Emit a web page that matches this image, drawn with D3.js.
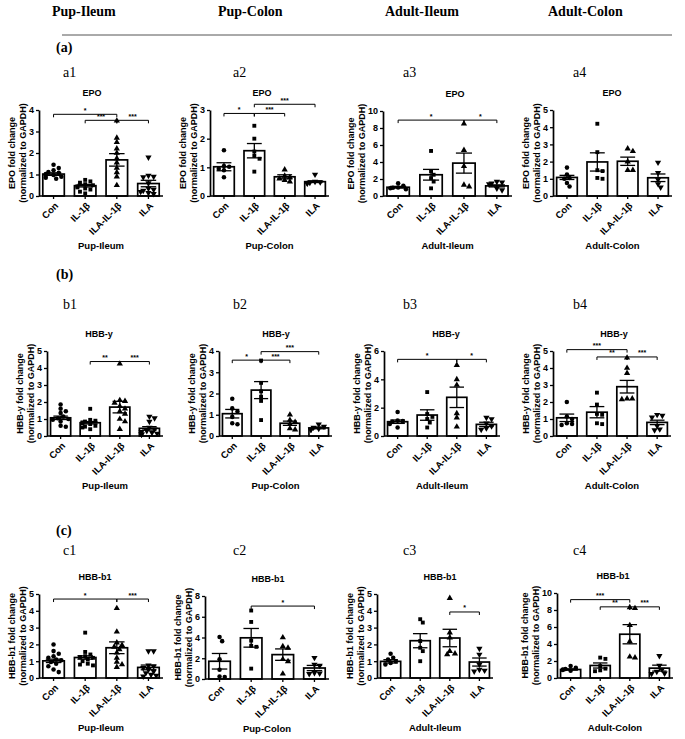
<!DOCTYPE html>
<html>
<head>
<meta charset="utf-8">
<script src="https://cdn.jsdelivr.net/npm/d3@7"></script>
<style>
  body { margin: 0; background: #fff; }
  text { fill: #000; }
  .sans { font-family: "Liberation Sans", Arial, sans-serif; font-weight: bold; }
  .serif { font-family: "Liberation Serif", "Times New Roman", serif; }
</style>
</head>
<body>
<svg id="fig" width="685" height="739"></svg>
<script>
// ---- data ----
const groups = ["Con", "IL-1β", "ILA-IL-1β", "ILA"];
const tissues = ["Pup-Ileum", "Pup-Colon", "Adult-Ileum", "Adult-Colon"];
const genes = ["EPO", "HBB-y", "HBB-b1"];
const rowTags = ["(a)", "(b)", "(c)"];
const panelTags = ["a1", "a2", "a3", "a4", "b1", "b2", "b3", "b4", "c1", "c2", "c3", "c4"];

const yMax = [4, 3, 10, 5, 5, 4, 6, 5, 5, 8, 5, 10];
const yStep = [1, 1, 2, 1, 1, 1, 2, 1, 1, 2, 1, 2];

const means = [
  [1.02, 0.48, 1.68, 0.58],
  [1.02, 1.58, 0.67, 0.50],
  [1.03, 2.50, 3.87, 1.19],
  [1.08, 1.98, 2.02, 1.06],
  [1.07, 0.78, 1.70, 0.45],
  [1.05, 2.16, 0.60, 0.38],
  [1.01, 1.48, 2.73, 0.82],
  [1.07, 1.40, 2.90, 0.80],
  [1.02, 1.22, 1.80, 0.63],
  [1.71, 3.97, 2.35, 1.06],
  [0.99, 2.22, 2.38, 0.95],
  [1.00, 1.47, 5.15, 1.16]
];
const sems = [
  [0.06, 0.06, 0.29, 0.15],
  [0.14, 0.25, 0.07, 0.03],
  [0.10, 0.63, 1.18, 0.12],
  [0.12, 0.53, 0.24, 0.22],
  [0.10, 0.07, 0.34, 0.10],
  [0.20, 0.40, 0.10, 0.04],
  [0.12, 0.37, 0.72, 0.15],
  [0.22, 0.33, 0.37, 0.13],
  [0.10, 0.10, 0.35, 0.14],
  [0.75, 0.90, 0.55, 0.25],
  [0.10, 0.42, 0.52, 0.24],
  [0.08, 0.30, 1.13, 0.35]
];

// individual animals, one list per group
const points = [
  [[1.45, 1.3, 1.2, 1.12, 1.08, 1.02, 0.98, 0.95, 0.9, 0.85, 0.8],
   [0.75, 0.68, 0.62, 0.55, 0.5, 0.45, 0.4, 0.35, 0.3, 0.2, 0.12],
   [3.5, 2.7, 2.5, 2.2, 2.0, 1.75, 1.55, 1.3, 1.1, 0.9, 0.5],
   [1.8, 0.95, 0.9, 0.88, 0.6, 0.35, 0.3, 0.25, 0.2, 0.15, 0.1]],
  [[1.6, 1.05, 1.02, 0.95, 0.9, 0.65],
   [2.45, 2.0, 1.55, 1.4, 1.3, 0.85],
   [0.92, 0.7, 0.65, 0.6, 0.55, 0.5],
   [0.75, 0.5, 0.48, 0.47, 0.45, 0.44]],
  [[1.5, 1.2, 1.0, 0.98, 0.9, 0.8],
   [5.3, 2.9, 2.5, 2.1, 1.7, 0.9],
   [8.5, 5.4, 3.5, 1.3, 1.1],
   [1.7, 1.6, 1.5, 1.4, 0.9, 0.7]],
  [[1.65, 1.25, 1.05, 1.0, 0.75, 0.55],
   [4.2, 2.55, 1.5, 1.45, 1.05, 1.0],
   [2.75, 2.6, 2.0, 1.5, 1.5],
   [1.95, 1.35, 0.95, 0.7, 0.5]],
  [[1.85, 1.6, 1.45, 1.35, 1.15, 1.05, 1.0, 0.95, 0.85, 0.6, 0.55],
   [1.6, 0.95, 0.9, 0.85, 0.8, 0.75, 0.7, 0.6, 0.55, 0.5, 0.4],
   [4.25, 2.1, 2.05, 1.95, 1.75, 1.6, 1.45, 1.3, 1.0, 0.85, 0.4],
   [1.15, 1.05, 0.85, 0.5, 0.4, 0.3, 0.25, 0.2, 0.15, 0.1, 0.1]],
  [[1.75, 1.3, 1.15, 0.9, 0.6, 0.55],
   [3.55, 2.5, 2.1, 1.85, 1.65, 0.75],
   [1.0, 0.75, 0.65, 0.55, 0.35, 0.3],
   [0.55, 0.45, 0.4, 0.35, 0.3, 0.3]],
  [[1.7, 1.1, 1.05, 1.0, 0.85, 0.6],
   [3.1, 1.55, 1.35, 1.2, 0.95, 0.6],
   [5.0, 4.0, 3.6, 1.6, 1.3, 0.65],
   [1.3, 1.2, 0.9, 0.7, 0.55, 0.45]],
  [[2.0, 1.15, 1.0, 0.75, 0.7, 0.65],
   [2.55, 1.85, 1.3, 1.25, 0.75, 0.7],
   [4.6, 4.0, 3.7, 2.2, 2.2, 2.15],
   [1.25, 1.2, 1.1, 0.6, 0.4, 0.35]],
  [[2.0, 1.6, 1.45, 1.3, 1.2, 1.1, 1.05, 0.95, 0.85, 0.7, 0.5, 0.35],
   [2.7, 1.55, 1.4, 1.3, 1.25, 1.2, 1.1, 1.0, 0.85, 0.8, 0.75],
   [4.15, 2.75, 2.1, 1.95, 1.85, 1.7, 1.5, 1.2, 0.95, 0.8, 0.65],
   [1.6, 1.6, 0.75, 0.7, 0.6, 0.5, 0.4, 0.3, 0.2, 0.15, 0.1]],
  [[4.05, 3.65, 1.9, 0.9, 0.25, 0.2],
   [6.6, 5.5, 3.7, 3.2, 3.1, 1.0],
   [4.0, 3.15, 3.0, 1.9, 1.7, 0.5],
   [2.05, 1.4, 1.3, 0.6, 0.55, 0.5]],
  [[1.45, 1.2, 1.1, 1.0, 0.9, 0.8],
   [3.5, 3.3, 2.2, 1.8, 1.6, 1.0],
   [4.75, 2.7, 2.4, 1.6, 1.45, 1.4],
   [1.75, 1.4, 0.8, 0.5, 0.45, 0.4]],
  [[1.4, 1.2, 1.05, 1.0, 0.95, 0.85],
   [2.4, 2.25, 1.4, 1.1, 0.9, 0.8],
   [8.3, 8.2, 6.2, 4.3, 2.5, 2.4],
   [2.6, 1.45, 1.0, 0.75, 0.55, 0.5]]
];

// significance brackets: [from group, to group, height in data units, label]
const brackets = [
  [[0, 2, 3.8, "*"], [1, 2, 3.52, "***"], [2, 3, 3.52, "***"]],
  [[1, 3, 3.2, "***"], [0, 1, 2.88, "*"], [1, 2, 2.88, "***"]],
  [[0, 2, 8.93, "*"], [2, 3, 8.93, "*"]],
  [],
  [[1, 2, 4.38, "**"], [2, 3, 4.38, "***"]],
  [[1, 3, 3.97, "***"], [0, 1, 3.57, "*"], [1, 2, 3.57, "***"]],
  [[0, 2, 5.41, "*"], [2, 3, 5.41, "*"]],
  [[0, 2, 5.08, "***"], [1, 2, 4.65, "**"], [2, 3, 4.65, "***"]],
  [[0, 2, 4.7, "*"], [2, 3, 4.7, "***"]],
  [[1, 3, 7.03, "*"]],
  [[2, 3, 3.93, "*"]],
  [[0, 2, 9.22, "***"], [1, 2, 8.37, "**"], [2, 3, 8.37, "***"]]
];

// ---- layout (pixels) ----
// plot box of each panel: left, right, top, bottom
const boxes = [
  [39, 163, 110, 196], [210, 329, 110, 196], [383, 512, 111, 196], [553, 672, 110, 196],
  [47, 163, 351, 436], [219, 332, 351, 436], [384, 500, 351, 436], [553, 671, 351, 436],
  [39, 163, 594, 678], [205, 329, 596, 679], [377, 493, 594, 678], [557, 673, 593, 678]
];
const titleX = [92, 262, 455, 612, 99, 276, 446, 614, 95, 268, 440, 613];
const headerX = [52, 218, 385, 548];
const tagX = [63, 233, 403, 573];
const tagY = [77, 309, 555];
const rowTagY = [52, 279, 535];

const svg = d3.select("#fig");

// column headers and rule
svg.selectAll(".hdr").data(tissues).join("text")
  .attr("class", "serif")
  .attr("x", (d, i) => headerX[i]).attr("y", 16)
  .style("font-size", "14px").style("font-weight", "bold")
  .text(d => d);
svg.append("line")
  .attr("x1", 62).attr("x2", 672).attr("y1", 35).attr("y2", 35)
  .attr("stroke", "#555").attr("stroke-width", 1);

svg.selectAll(".rowtag").data(rowTags).join("text")
  .attr("class", "serif")
  .attr("x", 56).attr("y", (d, i) => rowTagY[i])
  .style("font-size", "14px").style("font-weight", "bold")
  .text(d => d);

svg.selectAll(".ptag").data(panelTags).join("text")
  .attr("class", "serif")
  .attr("x", (d, i) => tagX[i % 4]).attr("y", (d, i) => tagY[Math.floor(i / 4)])
  .style("font-size", "14px")
  .text(d => d);

const symbols = [d3.symbolCircle, d3.symbolSquare, d3.symbolTriangle, d3.symbolTriangle];
const symbolSize = [16, 15, 17, 17];

panelTags.forEach((tag, p) => {
  const [x0, x1, top, bottom] = boxes[p];
  const gene = genes[Math.floor(p / 4)];
  const tissue = tissues[p % 4];
  const g = svg.append("g");

  const x = d3.scaleBand().domain(groups).range([x0, x1]).paddingInner(0.32).paddingOuter(0.12);
  const y = d3.scaleLinear().domain([0, yMax[p]]).range([bottom, top]);
  const bw = x.bandwidth();
  const cx = i => x(groups[i]) + bw / 2;

  // bars
  g.selectAll(".bar").data(means[p]).join("rect")
    .attr("x", (d, i) => x(groups[i]))
    .attr("y", d => y(d))
    .attr("width", bw)
    .attr("height", d => bottom - y(d))
    .attr("fill", "#fff").attr("stroke", "#000").attr("stroke-width", 1.7);

  // scatter points, simple beeswarm
  points[p].forEach((vals, gi) => {
    const placed = [];
    const step = 2.6, rad = 4.2;
    vals.slice().sort((a, b) => b - a).forEach(v => {
      const py = y(v);
      let dx = 0;
      for (let k = 0; k < 12; k++) {
        const cand = k === 0 ? 0 : (k % 2 ? 1 : -1) * Math.ceil(k / 2) * step;
        if (Math.abs(cand) > bw / 2 - 2) continue;
        if (!placed.some(q => Math.hypot(q[0] - cand, q[1] - py) < rad)) { dx = cand; break; }
        dx = cand;
      }
      placed.push([dx, py]);
    });
    g.selectAll(null).data(placed).join("path")
      .attr("d", d3.symbol().type(symbols[gi]).size(symbolSize[gi]))
      .attr("transform", d => `translate(${cx(gi) + d[0]},${d[1]})` + (gi === 3 ? " rotate(180)" : ""))
      .attr("fill", "#000");
  });

  // error bars (mean ± SEM)
  const capW = bw * 0.36;
  means[p].forEach((m, i) => {
    const s = sems[p][i];
    g.append("line").attr("x1", cx(i)).attr("x2", cx(i))
      .attr("y1", y(m - s)).attr("y2", y(m + s))
      .attr("stroke", "#000").attr("stroke-width", 1.3);
    [m - s, m + s].forEach(v => {
      g.append("line").attr("x1", cx(i) - capW).attr("x2", cx(i) + capW)
        .attr("y1", y(v)).attr("y2", y(v))
        .attr("stroke", "#000").attr("stroke-width", 1.3);
    });
  });

  // axes
  const ticks = d3.range(0, yMax[p] + yStep[p] / 2, yStep[p]);
  const yAxis = g.append("g").attr("transform", `translate(${x0},0)`)
    .call(d3.axisLeft(y).tickValues(ticks).tickSize(3).tickSizeOuter(0).tickPadding(2).tickFormat(d3.format("d")));
  yAxis.selectAll("text").attr("class", "sans").style("font-size", "9px");

  const xAxis = g.append("g").attr("transform", `translate(0,${bottom})`)
    .call(d3.axisBottom(x).tickSize(3).tickSizeOuter(0));
  xAxis.select(".domain").attr("d", `M${x0},0H${x1}`);
  xAxis.selectAll("text").attr("class", "sans")
    .style("font-size", "9.5px").style("text-anchor", "end")
    .attr("x", 0).attr("y", 0).attr("dy", "0.35em")
    .attr("transform", "translate(3,8) rotate(-45)");
  [yAxis, xAxis].forEach(a => {
    a.selectAll(".domain").attr("stroke-width", 1.7);
    a.selectAll(".tick line").attr("stroke-width", 1.3);
  });

  // titles
  g.append("text").attr("class", "sans")
    .attr("x", titleX[p]).attr("y", top - 14)
    .attr("text-anchor", "middle").style("font-size", "9px")
    .text(gene);
  g.append("text").attr("class", "sans")
    .attr("x", (x0 + x1) / 2).attr("y", bottom + 53)
    .attr("text-anchor", "middle").style("font-size", "9.5px")
    .text(tissue);

  const labW = String(yMax[p]).length * 5;
  const line2 = x0 - 11 - labW;
  const my = (top + bottom) / 2;
  [gene + " fold change", "(normalized to GAPDH)"].forEach((t, k) => {
    g.append("text").attr("class", "sans")
      .attr("transform", `translate(${line2 - 11 + k * 11},${my}) rotate(-90)`)
      .attr("text-anchor", "middle").attr("dy", "0.35em")
      .style("font-size", "9px")
      .text(t);
  });

  // significance brackets
  brackets[p].forEach(([a, b, v, lab]) => {
    const by = y(v);
    g.append("path")
      .attr("d", `M${cx(a)},${by + 3}V${by}H${cx(b)}V${by + 3}`)
      .attr("fill", "none").attr("stroke", "#000").attr("stroke-width", 1);
    g.append("text").attr("class", "sans")
      .attr("x", (cx(a) + cx(b)) / 2).attr("y", by - 1.5)
      .attr("text-anchor", "middle").style("font-size", "7px")
      .text(lab);
  });
});
</script>
</body>
</html>
